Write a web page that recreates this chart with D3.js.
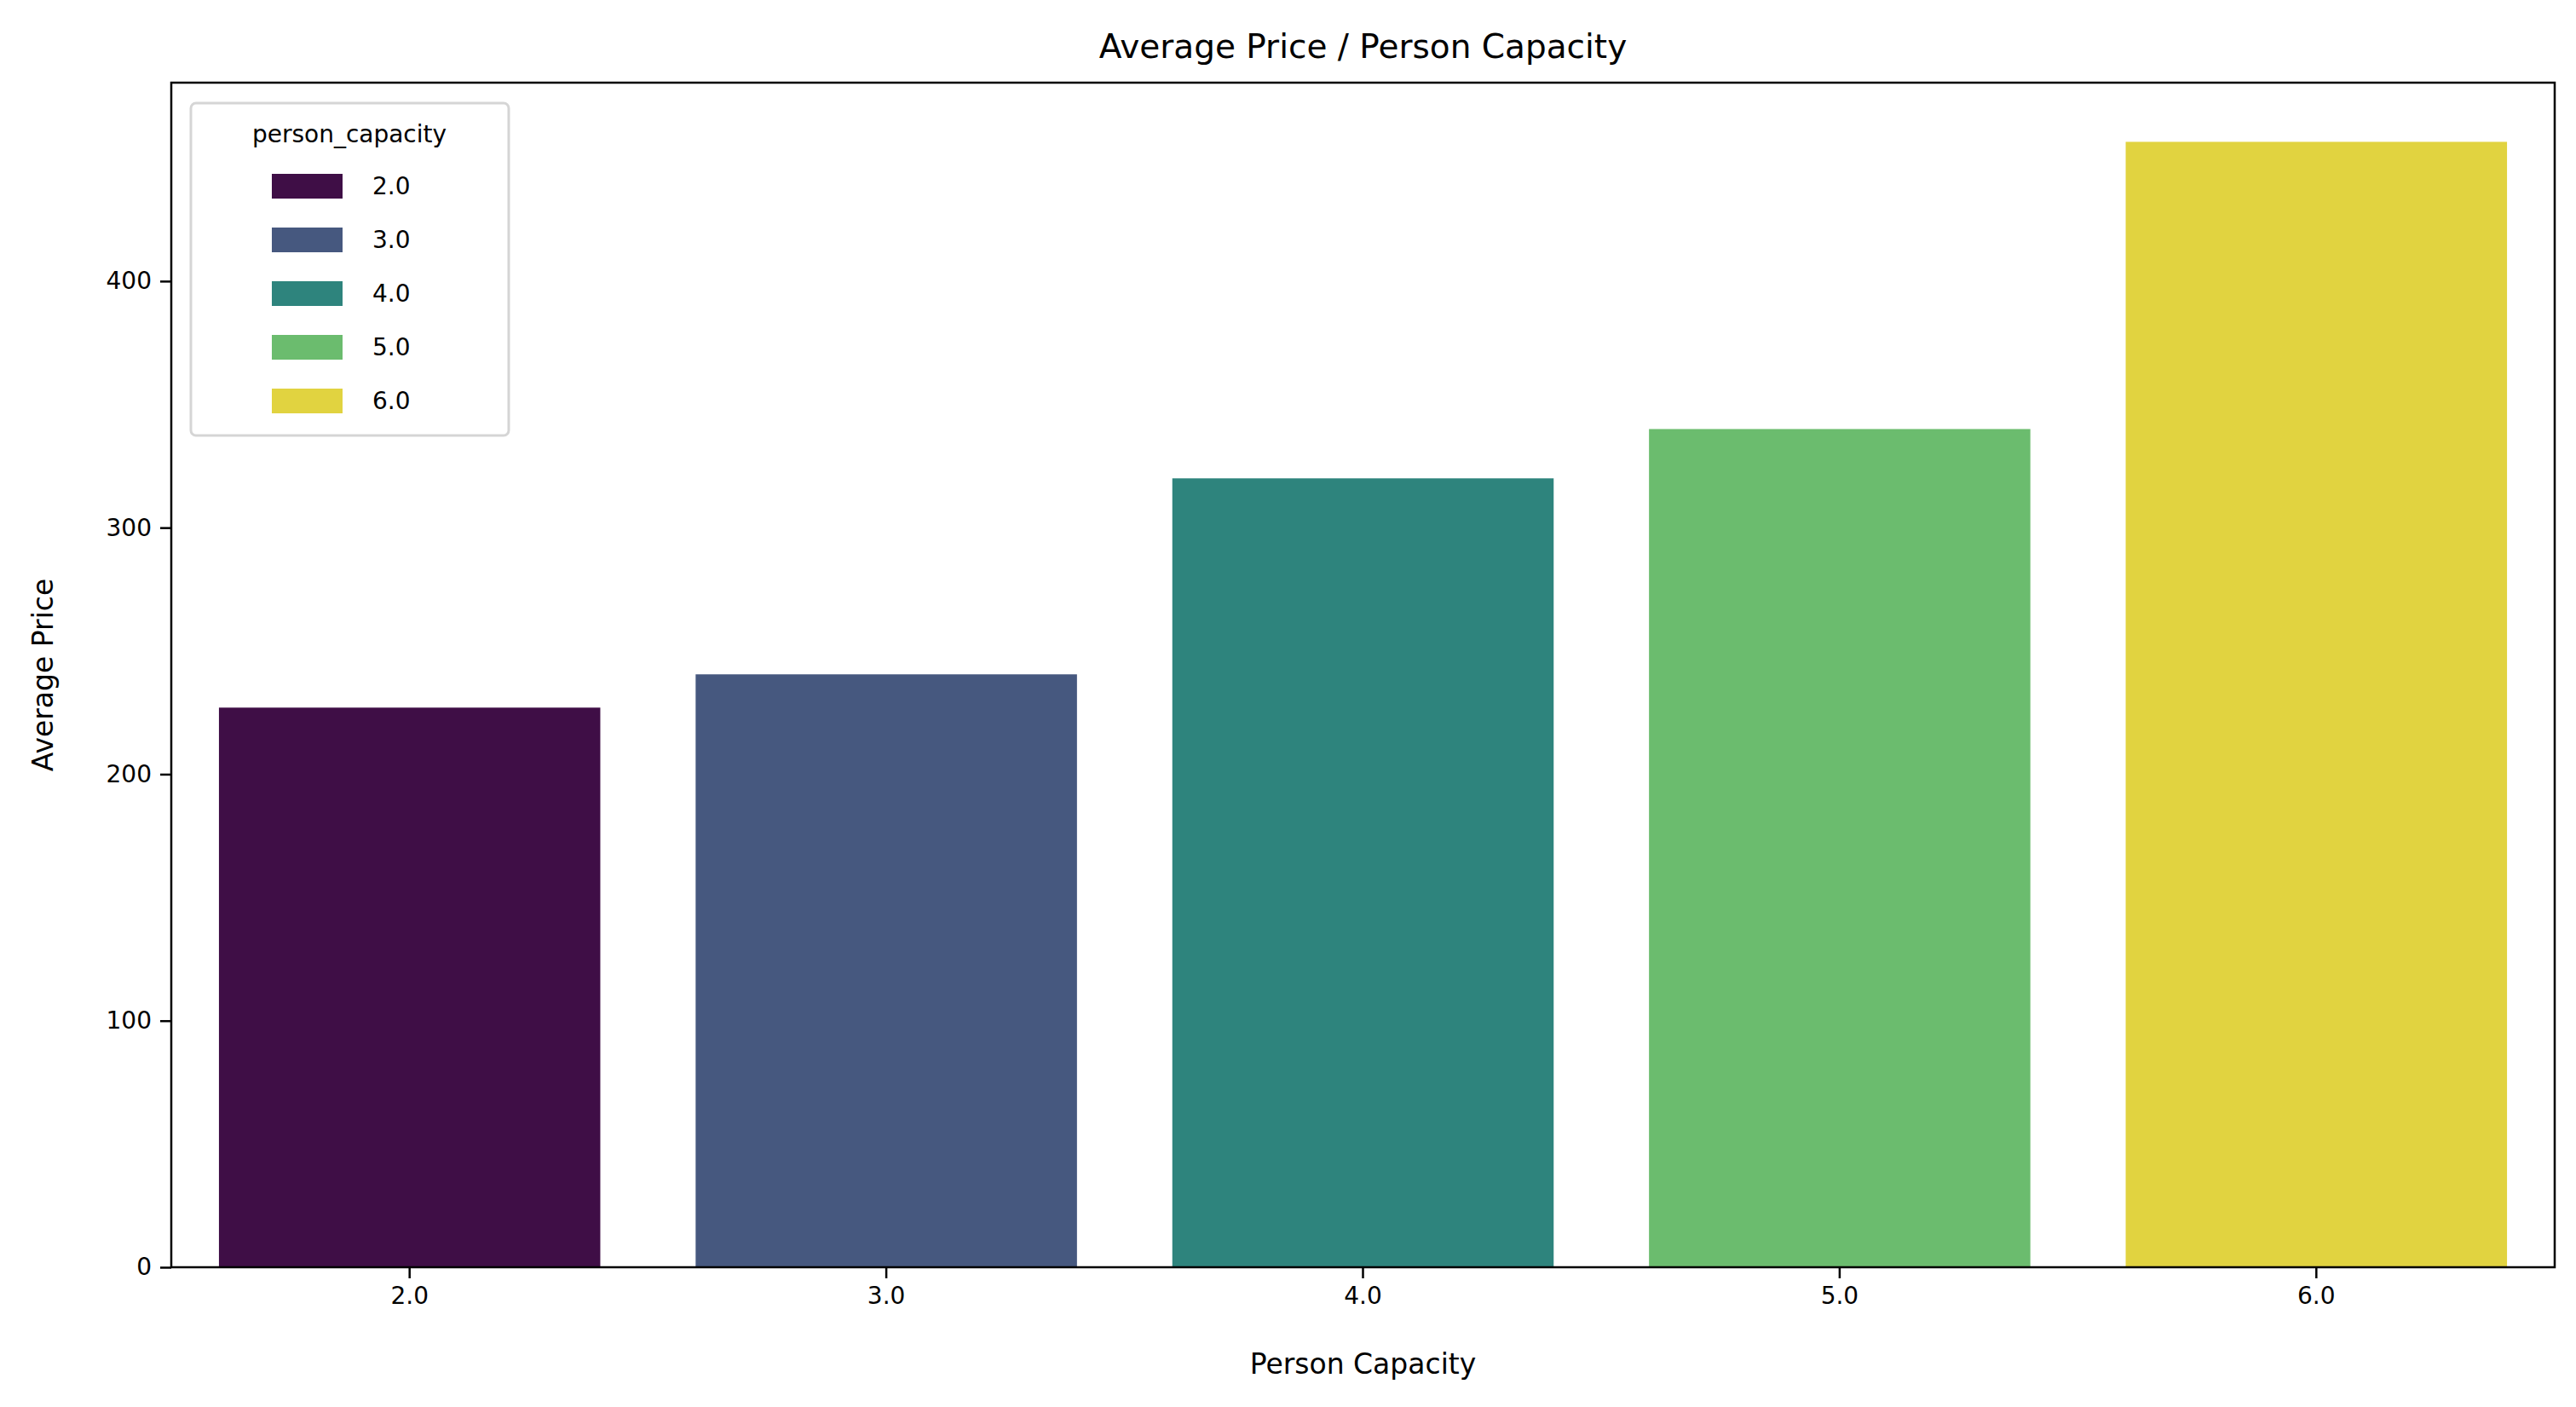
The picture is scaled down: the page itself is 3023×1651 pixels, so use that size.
<!DOCTYPE html>
<html><head><meta charset="utf-8">
<script src="https://cdn.jsdelivr.net/npm/d3@7"></script>
<style>body{margin:0;background:#fff}text{font-family:"DejaVu Sans",sans-serif}</style>
</head><body><div id="chart"></div>
<script>
var categories = ['2.0', '3.0', '4.0', '5.0', '6.0'];
var prices = [227, 240.5, 320, 340, 456.5];
var colors = ['#3f0e46', '#46587f', '#2e847d', '#6bbc6e', '#e1d340'];
var yTicks = [0, 100, 200, 300, 400];

var W = 3023, H = 1651;
var m = {left: 201, right: 3023 - 2998, top: 97, bottom: H - 1487};
var iw = W - m.left - m.right, ih = H - m.top - m.bottom;

var svg = d3.select('#chart').append('svg').attr('width', W).attr('height', H);
var g = svg.append('g').attr('transform', 'translate(' + m.left + ',' + m.top + ')');

var x = d3.scaleBand().domain(categories).range([0, iw]).paddingInner(0.2).paddingOuter(0.1);
var y = d3.scaleLinear().domain([0, 480.5]).range([ih, 0]);

g.selectAll('rect.bar').data(prices).enter().append('rect')
    .attr('class', 'bar')
    .attr('x', function(d, i) { return x(categories[i]); })
    .attr('y', function(d) { return y(d); })
    .attr('width', x.bandwidth())
    .attr('height', function(d) { return ih - y(d); })
    .attr('fill', function(d, i) { return colors[i]; });

var xa = g.append('g').attr('transform', 'translate(0,' + ih + ')')
    .call(d3.axisBottom(x).tickSize(13).tickPadding(10));
var ya = g.append('g').call(d3.axisLeft(y).tickValues(yTicks).tickSize(13).tickPadding(10));
[xa, ya].forEach(function(a) {
    a.select('.domain').remove();
    a.selectAll('line').attr('stroke', '#000').attr('stroke-width', 2.5);
    a.selectAll('text').attr('font-size', 28).attr('fill', '#000');
});

g.append('rect').attr('width', iw).attr('height', ih)
    .attr('fill', 'none').attr('stroke', '#000').attr('stroke-width', 2.5);

svg.append('text').attr('x', m.left + iw / 2).attr('y', 68).attr('text-anchor', 'middle')
    .attr('font-size', 39).text('Average Price / Person Capacity');
svg.append('text').attr('x', m.left + iw / 2).attr('y', 1612).attr('text-anchor', 'middle')
    .attr('font-size', 33).text('Person Capacity');
svg.append('text').attr('transform', 'translate(62,' + (m.top + ih / 2) + ') rotate(-90)')
    .attr('text-anchor', 'middle').attr('font-size', 33).text('Average Price');

// legend
var lg = svg.append('g');
lg.append('rect').attr('x', 224).attr('y', 121).attr('width', 373).attr('height', 390)
    .attr('rx', 6).attr('fill', '#fff').attr('fill-opacity', 0.8)
    .attr('stroke', '#d5d5d5').attr('stroke-width', 3);
lg.append('text').attr('x', 410).attr('y', 167).attr('text-anchor', 'middle')
    .attr('font-size', 28).text('person_capacity');
var rows = lg.selectAll('g.row').data(categories).enter().append('g')
    .attr('transform', function(d, i) { return 'translate(0,' + (218 + i * 63) + ')'; });
rows.append('rect').attr('x', 319).attr('y', -14).attr('width', 83).attr('height', 29)
    .attr('fill', function(d, i) { return colors[i]; });
rows.append('text').attr('x', 437).attr('y', 10).attr('font-size', 28).text(function(d) { return d; });
</script></body></html>
